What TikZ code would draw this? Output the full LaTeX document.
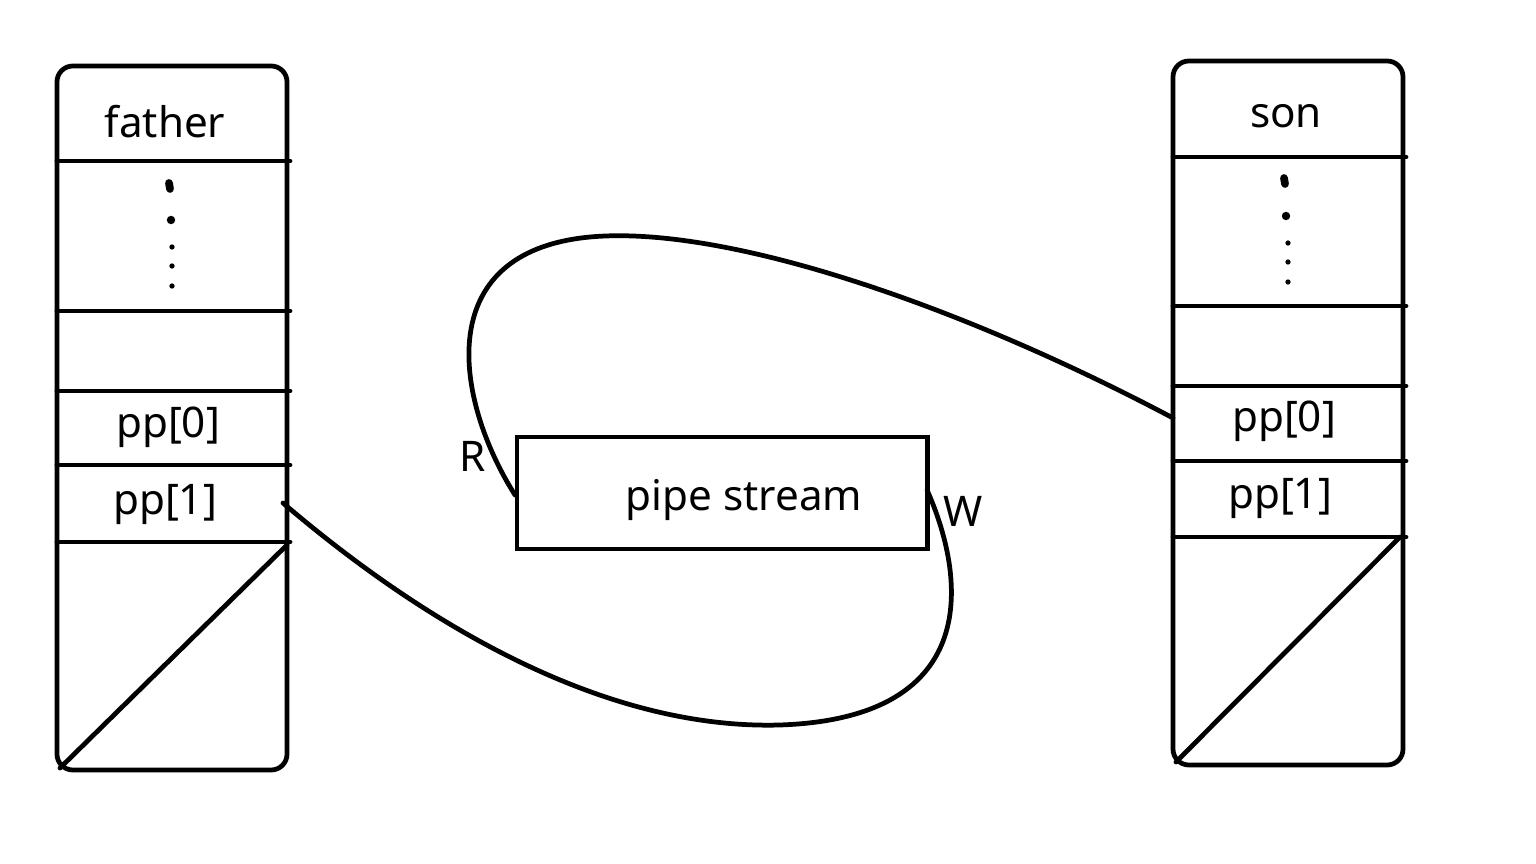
\documentclass[tikz,border=0pt]{standalone}
\usepackage{fontspec}
\setmainfont{Noto Sans}
\begin{document}
\begin{tikzpicture}[x=0.01cm,y=-0.01cm,
  line width=1.35pt, line cap=round,
  stack/.style={draw, rounded corners=4.5pt},
  lbl/.style={font=\fontsize{12}{14}\selectfont, inner sep=0pt},
  dot/.style={fill, circle, inner sep=0pt, minimum size=1.5pt}]
\useasboundingbox (0,0) rectangle (1536,864);
% father stack
\draw[stack] (57,66) rectangle (287,770);
\foreach \y in {161,311,391,465,542} \draw (57,\y) -- (290,\y);
\draw (287,545) -- (60,768);
\node[lbl] (fa) at (165,122) {father};
\node[lbl] (fp0) at (168,427) {pp[0]};
\node[lbl] (fp1) at (165,504) {pp[1]};
\draw[line width=2.2pt] (169,183) -- (170,189);
\node[dot, minimum size=2.4pt] (fd1) at (171,220) {};
\foreach \y in {247,266,286} \node[dot] at (172,\y) {};
% son stack
\draw[stack] (1173,61) rectangle (1403,765);
\foreach \y in {157,306,386,461,537} \draw (1173,\y) -- (1406,\y);
\draw (1400,537) -- (1176,762);
\node[lbl] (sn) at (1286,116) {son};
\node[lbl] (sp0) at (1284,421) {pp[0]};
\node[lbl] (sp1) at (1280,499) {pp[1]};
\draw[line width=2.2pt] (1284,178) -- (1285,184);
\node[dot, minimum size=2.4pt] (sd1) at (1286,216) {};
\foreach \y in {243,262,282} \node[dot] at (1288,\y) {};
% pipe
\node[draw, minimum width=4.1cm, minimum height=1.12cm, inner sep=0pt,
  outer sep=0pt] (pipe) at (722,493) {};
\node[lbl] (ps) at (744,500) {pipe stream};
\node[lbl] (R) at (473,456) {R};
\node[lbl] (W) at (963,511) {W};
% connectors
\coordinate (sA) at (1173,418);
\coordinate (rA) at (515,495);
\coordinate (fA) at (283,503);
\coordinate (wA) at (927,490);
\draw (sA) .. controls (950,300) and (720,225) .. (590,237)
      .. controls (430,252) and (455,400) .. (rA);
\draw (fA) .. controls (420,620) and (600,730) .. (780,725)
      .. controls (985,718) and (965,575) .. (wA);
\end{tikzpicture}
\end{document}
